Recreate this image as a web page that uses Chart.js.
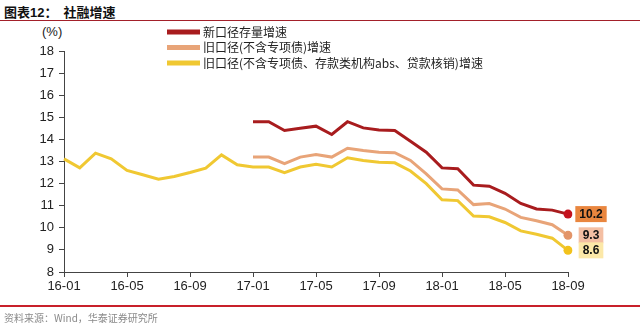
<!DOCTYPE html>
<html>
<head>
<meta charset="utf-8">
<script src="https://cdn.jsdelivr.net/npm/chart.js@4.4.1/dist/chart.umd.min.js"></script>
<style>
  body { margin: 0; width: 640px; height: 325px; background: #fff; position: relative; overflow: hidden; }
  #title { position: absolute; left: 4px; top: 2px; font: bold 13px "Noto Sans CJK SC", sans-serif; color: #111; white-space: pre; }
  #title .num { font-family: "Liberation Sans", Arial, sans-serif; }
  #topLine { position: absolute; left: 0; top: 20px; width: 640px; height: 1px; background: #a3202a; }
  #bottomLine { position: absolute; left: 0; top: 305px; width: 640px; height: 2px; background: #c8202a; }
  #source { position: absolute; left: 4px; top: 310px; font: 10px "Noto Sans CJK SC", sans-serif; color: #8a8a8a; }
  #unit { position: absolute; left: 42px; top: 24px; font: 13px "Liberation Sans", Arial, sans-serif; color: #222; }
  canvas { position: absolute; left: 0; top: 0; }
</style>
</head>
<body>
<div id="title">图表<span class="num">12</span>：  社融增速</div>
<div id="topLine"></div>
<div id="unit">(%)</div>
<canvas id="sfChart" width="640" height="325"></canvas>
<div id="bottomLine"></div>
<div id="source">资料来源：Wind，华泰证券研究所</div>

<script>
const months = [
  "16-01","16-02","16-03","16-04","16-05","16-06","16-07","16-08","16-09","16-10","16-11","16-12",
  "17-01","17-02","17-03","17-04","17-05","17-06","17-07","17-08","17-09","17-10","17-11","17-12",
  "18-01","18-02","18-03","18-04","18-05","18-06","18-07","18-08","18-09"
];

const seriesNames = [
  "新口径存量增速",
  "旧口径(不含专项债)增速",
  "旧口径(不含专项债、存款类机构abs、贷款核销)增速"
];

const newCaliber = [
  null, null, null, null, null, null, null, null, null, null, null, null,
  14.8, 14.8, 14.4, 14.5, 14.6, 14.22, 14.8, 14.52, 14.43, 14.4, 13.92, 13.42,
  12.71, 12.67, 11.93, 11.88, 11.56, 11.1, 10.85, 10.8, 10.62
];

const oldExSpecial = [
  null, null, null, null, null, null, null, null, null, null, null, null,
  13.2, 13.2, 12.9, 13.2, 13.32, 13.2, 13.6, 13.5, 13.42, 13.4, 13.05, 12.44,
  11.76, 11.71, 11.05, 11.1, 10.85, 10.47, 10.32, 10.14, 9.66
];

const oldExAll = [
  13.12, 12.71, 13.38, 13.12, 12.6, 12.4, 12.2, 12.32, 12.5, 12.7, 13.3, 12.85,
  12.75, 12.75, 12.5, 12.75, 12.88, 12.75, 13.17, 13.05, 12.97, 12.94, 12.57, 12.0,
  11.27, 11.23, 10.53, 10.5, 10.24, 9.86, 9.71, 9.53, 8.98
];

const endLabels = ["10.2", "9.3", "8.6"];

const lineColors = ["#a81c1e", "#e8a478", "#f0c832"];
const dotColors = ["#c4121e", "#e39468", "#f2c21c"];
const boxColors = ["#e9863f", "#f4bfa3", "#fce8a8"];

const lastIdx = months.length - 1;

// legend drawn at fixed spot, like the report
const sideLegend = {
  id: "sideLegend",
  afterDraw(chart) {
    const c = chart.ctx;
    const rows = [32, 47.5, 63];
    c.save();
    c.font = '12px "Noto Sans CJK SC", sans-serif';
    c.textBaseline = "middle";
    chart.data.datasets.forEach((ds, i) => {
      c.fillStyle = ds.borderColor;
      c.fillRect(167, rows[i] - 2.5, 33, 5);
      c.fillStyle = "#222";
      c.fillText(ds.label, 203, rows[i]);
    });
    c.restore();
  }
};

// value boxes at the last point
const endBoxes = {
  id: "endBoxes",
  afterDatasetsDraw(chart) {
    const c = chart.ctx;
    c.save();
    c.font = 'bold 12px "Liberation Sans", Arial, sans-serif';
    c.textAlign = "center";
    c.textBaseline = "middle";
    chart.data.datasets.forEach((ds, i) => {
      const pt = chart.getDatasetMeta(i).data[lastIdx];
      const txt = endLabels[i];
      const w = c.measureText(txt).width + 8;
      const cx = pt.x + 23;
      c.fillStyle = boxColors[i];
      c.fillRect(cx - w / 2, pt.y - 8, w, 16);
      c.fillStyle = "#111";
      c.fillText(txt, cx, pt.y + 0.5);
    });
    c.restore();
  }
};

const makeSet = (label, data, i) => ({
  label: label,
  data: data,
  borderColor: lineColors[i],
  backgroundColor: lineColors[i],
  borderWidth: 3,
  tension: 0,
  spanGaps: false,
  pointRadius: ctx => ctx.dataIndex === lastIdx ? 4.5 : 0,
  pointBackgroundColor: dotColors[i],
  pointBorderColor: dotColors[i],
  pointBorderWidth: 0,
  order: 3 - i
});

new Chart(document.getElementById("sfChart"), {
  type: "line",
  data: {
    labels: months,
    datasets: [
      makeSet(seriesNames[0], newCaliber, 0),
      makeSet(seriesNames[1], oldExSpecial, 1),
      makeSet(seriesNames[2], oldExAll, 2)
    ]
  },
  options: {
    responsive: false,
    animation: false,
    layout: { padding: { left: 24, right: 72, top: 51, bottom: 31 } },
    plugins: {
      legend: { display: false },
      tooltip: { enabled: false }
    },
    scales: {
      x: {
        afterFit(scale) { scale.height = 22; },
        border: { color: "#444", width: 1 },
        grid: {
          drawOnChartArea: false,
          tickLength: 5,
          color: ctx => ctx.index % 4 === 0 ? "#444" : "rgba(0,0,0,0)"
        },
        ticks: {
          autoSkip: false,
          maxRotation: 0,
          padding: 2,
          color: "#222",
          font: { family: '"Liberation Sans", Arial, sans-serif', size: 13 },
          callback: (v, i) => i % 4 === 0 ? months[i] : ""
        }
      },
      y: {
        min: 8,
        max: 18,
        afterFit(scale) { scale.width = 40; },
        border: { color: "#444", width: 1 },
        grid: { drawOnChartArea: false, tickLength: 5, color: "#444" },
        ticks: {
          stepSize: 1,
          padding: 5,
          color: "#222",
          font: { family: '"Liberation Sans", Arial, sans-serif', size: 13 }
        }
      }
    }
  },
  plugins: [sideLegend, endBoxes]
});
</script>
</body>
</html>
